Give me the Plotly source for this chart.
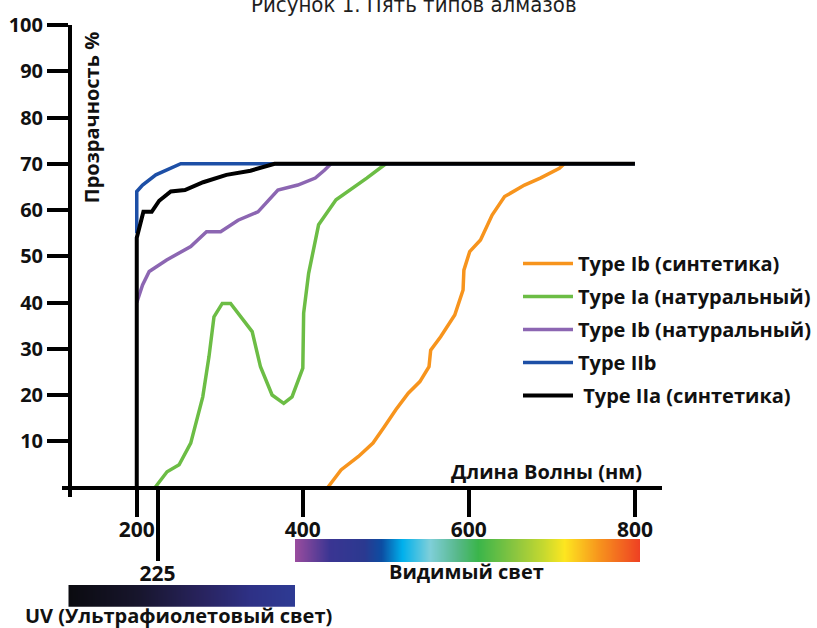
import plotly.graph_objects as go

W, H = 817, 628

# ---------------- data ----------------
ib_syn_x = [430, 446, 467, 484.5, 498, 512, 527, 541, 552, 554, 566, 583, 593, 594,
            601, 614, 628, 643, 667, 686, 709, 715]
ib_syn_y = [0, 3.8, 6.7, 9.6, 13.1, 16.8, 20.4, 22.9, 26.1, 29.7, 32.6, 37.3, 42.7, 47,
            51, 53.5, 58.9, 62.9, 65.4, 66.9, 69, 70]

ia_nat_x = [222, 236.5, 251, 265, 279.5, 287, 293, 303, 313, 322, 339, 349, 363, 377,
            387, 400, 401, 407, 419, 440, 457, 477, 500]
ia_nat_y = [0, 3.4, 4.9, 9.6, 19.6, 28.3, 36.9, 39.8, 39.8, 37.7, 33.7, 26.1, 20, 18.2,
            19.6, 25.8, 37.7, 46.3, 56.8, 62.2, 64.3, 66.9, 70]

ib_nat_x = [200, 207, 215, 236, 265, 284, 301, 322, 346, 370, 394, 415, 426, 434]
ib_nat_y = [40, 43.8, 46.7, 49.2, 52.1, 55.3, 55.3, 57.8, 59.6, 64.3, 65.4, 66.9, 68.6, 70]

iib_x = [200, 200, 207, 223, 253, 800]
iib_y = [55, 64, 65.4, 67.6, 70, 70]

iia_syn_x = [200, 200, 208, 218, 227, 241, 258, 280, 308, 337, 366, 800]
iia_syn_y = [0, 54, 59.6, 59.6, 62, 64, 64.3, 66, 67.6, 68.5, 70, 70]

series_names = ["Type Ib (синтетика)", "Type Ia (натуральный)", "Type Ib (натуральный)",
                "Type IIb", " Type IIa (синтетика)"]
series_colors = ["#f7941d", "#6cbd45", "#8c66b2", "#1d4fa6", "#000000"]

x_tick_vals = [200, 400, 600, 800]
x_extra_tick = [225]
y_tick_vals = [10, 20, 30, 40, 50, 60, 70, 80, 90, 100]

visible_band_nm = [400, 800]
uv_band_nm = [100, 400]

visible_scale = [[0.0, "#994c9e"], [0.1, "#3a3592"], [0.2, "#2b3990"], [0.25, "#0c4da2"],
                 [0.31, "#00b0ec"], [0.39, "#7fcfd9"], [0.47, "#57b88a"], [0.53, "#3ab54a"],
                 [0.64, "#8dc63f"], [0.72, "#c6d92f"], [0.78, "#fde620"], [0.88, "#f7941d"],
                 [1.0, "#ee3f23"]]
uv_scale = [[0.0, "#0b0b10"], [0.3, "#17152c"], [0.6, "#292461"], [0.8, "#2e3186"],
            [1.0, "#2e3b94"]]

# ---------------- figure ----------------
BOLD = dict(family="Open Sans, Lato, sans-serif", weight="bold", color="#111111")

fig = go.Figure()
all_x = [ib_syn_x, ia_nat_x, ib_nat_x, iib_x, iia_syn_x]
all_y = [ib_syn_y, ia_nat_y, ib_nat_y, iib_y, iia_syn_y]
for i, (xs, ys) in enumerate(zip(all_x, all_y)):
    fig.add_trace(go.Scatter(
        x=xs, y=ys, mode="lines", name=series_names[i], legendgroup=f"g{i}",
        line=dict(color=series_colors[i], width=3.5 if i < 4 else 4),
        hoverinfo="skip", xaxis="x", yaxis="y"))

fig.add_trace(go.Heatmap(
    x=visible_band_nm, y=[0, 1], z=[visible_band_nm, visible_band_nm],
    colorscale=visible_scale, zsmooth="best", showscale=False, hoverinfo="skip",
    xaxis="x2", yaxis="y2", showlegend=False))
fig.add_trace(go.Heatmap(
    x=uv_band_nm, y=[0, 1], z=[uv_band_nm, uv_band_nm],
    colorscale=uv_scale, zsmooth="best", showscale=False, hoverinfo="skip",
    xaxis="x3", yaxis="y3", showlegend=False))
# empty trace that activates the overlay axis carrying the 225 tick
fig.add_trace(go.Scatter(x=[], y=[], xaxis="x4", yaxis="y", showlegend=False))


def px_x(p):
    return p / W


def px_y(p):
    return 1 - p / H


x_range = [109.6, 832.6]
x_dom = [px_x(61.7), px_x(662)]
x_pos = px_y(487.5)

fig.update_layout(
    width=W, height=H,
    margin=dict(l=0, r=0, t=0, b=0, autoexpand=False),
    paper_bgcolor="white", plot_bgcolor="white",
    hovermode=False,
    showlegend=True,
    legend=dict(x=px_x(518), y=px_y(244), xanchor="left", yanchor="top",
                font=dict(size=20, **BOLD), itemwidth=50, tracegroupgap=4,
                bgcolor="rgba(0,0,0,0)", traceorder="grouped"),
    xaxis=dict(domain=x_dom, range=x_range, anchor="free", position=x_pos,
               showline=True, linewidth=4, linecolor="black",
               ticks="outside", ticklen=27, tickwidth=4, tickcolor="black",
               tickvals=x_tick_vals, tickfont=dict(size=21, **BOLD),
               ticklabelstandoff=-5,
               showgrid=False, zeroline=False),
    xaxis4=dict(overlaying="x", range=x_range, anchor="free", position=x_pos,
                showline=False, ticks="outside", ticklen=72, tickwidth=4,
                tickcolor="black", tickvals=x_extra_tick,
                tickfont=dict(size=21, **BOLD), ticklabelstandoff=-5,
                showgrid=False, zeroline=False),
    yaxis=dict(domain=[px_y(497), px_y(25)], range=[-2.054, 100], anchor="free",
               position=px_x(70), showline=True, linewidth=4, linecolor="black",
               ticks="outside", ticklen=21, tickwidth=4, tickcolor="black",
               tickvals=y_tick_vals, tickfont=dict(size=20, **BOLD),
               showgrid=False, zeroline=False),
    xaxis2=dict(domain=[px_x(295), px_x(640)], range=visible_band_nm, anchor="y2",
                visible=False),
    yaxis2=dict(domain=[px_y(562), px_y(539)], range=[0, 1], anchor="x2", visible=False),
    xaxis3=dict(domain=[px_x(68.3), px_x(295)], range=uv_band_nm, anchor="y3",
                visible=False),
    yaxis3=dict(domain=[px_y(606.7), px_y(585)], range=[0, 1], anchor="x3", visible=False),
)

ann = [
    dict(text="Рисунок 1. Пять типов алмазов", x=px_x(414), y=px_y(4.5),
         xanchor="center", yanchor="middle",
         font=dict(family="DejaVu Sans Condensed, Liberation Sans Narrow, sans-serif",
                   size=22, color="#1e1e1e")),
    dict(text="Прозрачность %", x=px_x(91.7), y=px_y(117.5), textangle=-90,
         xanchor="center", yanchor="middle", font=dict(size=20, **BOLD)),
    dict(text="Длина Волны (нм)", x=px_x(546), y=px_y(471.7),
         xanchor="center", yanchor="middle", font=dict(size=20, **BOLD)),
    dict(text="Видимый свет", x=px_x(466.7), y=px_y(571.7),
         xanchor="center", yanchor="middle", font=dict(size=20, **BOLD)),
    dict(text="UV (Ультрафиолетовый свет)", x=px_x(23.3), y=px_y(615.5),
         xanchor="left", yanchor="middle", font=dict(size=20, **BOLD)),
]
for a in ann:
    a.update(xref="paper", yref="paper", showarrow=False)
fig.update_layout(annotations=ann)

fig.write_html("out.html", config={"displayModeBar": False},
               post_script="document.body.style.margin='0px';")
